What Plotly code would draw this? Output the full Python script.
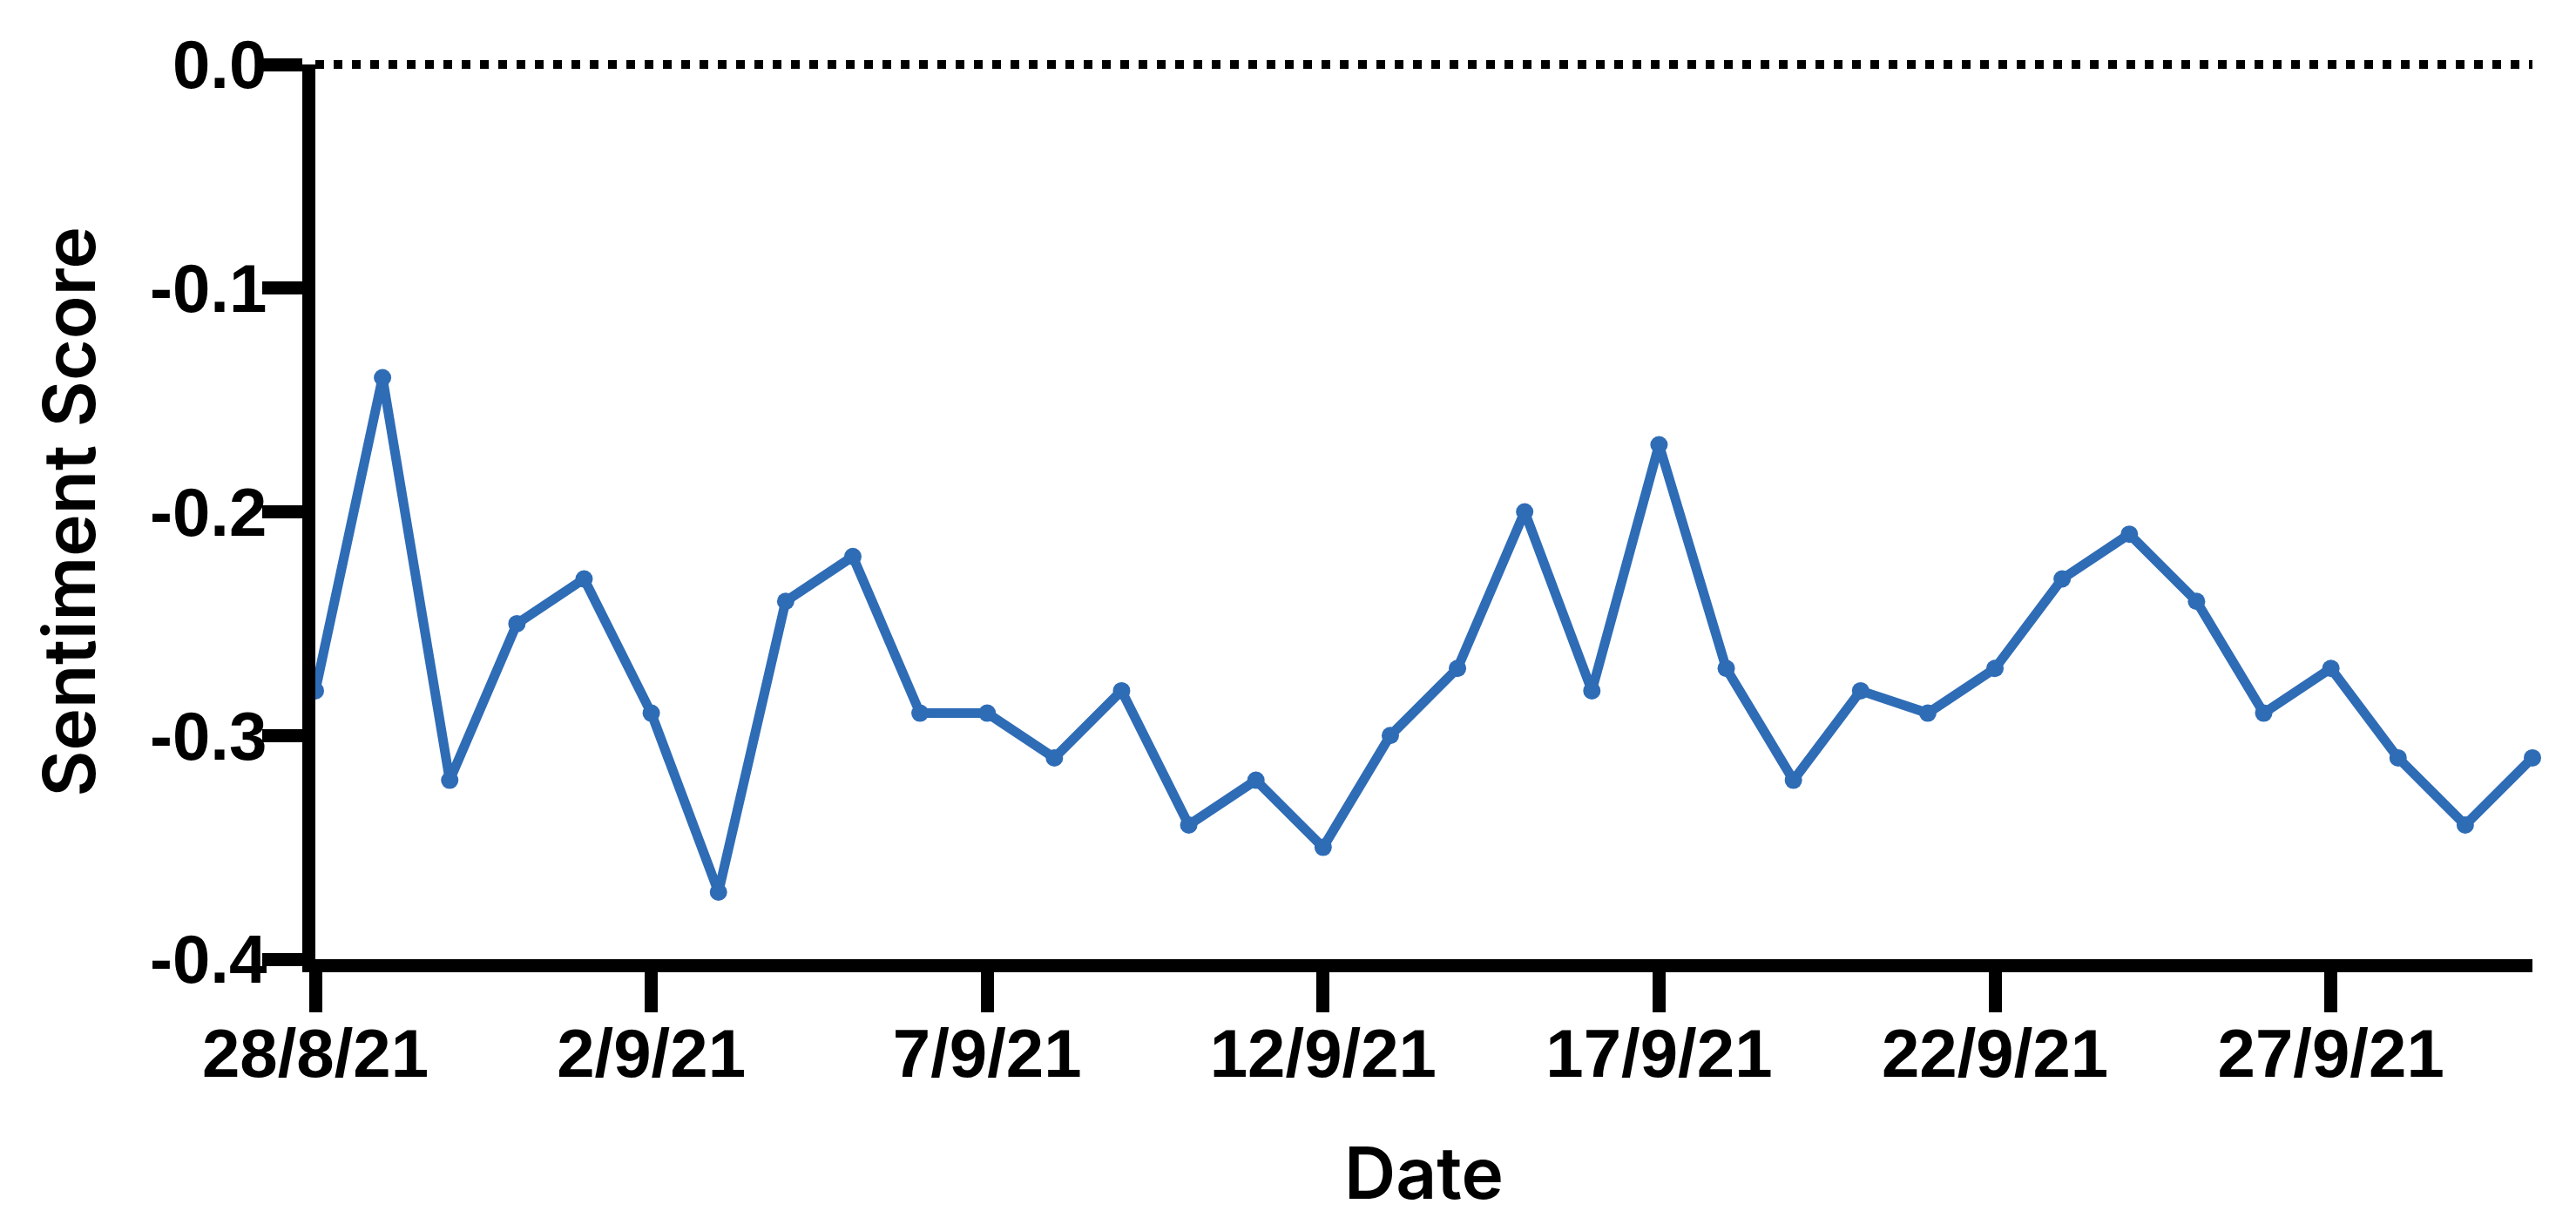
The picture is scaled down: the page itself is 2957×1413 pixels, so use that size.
import plotly.graph_objects as go

# daily sentiment, 28 Aug 2021 - 30 Sep 2021
dates = [
    "2021-08-28", "2021-08-29", "2021-08-30", "2021-08-31", "2021-09-01",
    "2021-09-02", "2021-09-03", "2021-09-04", "2021-09-05", "2021-09-06",
    "2021-09-07", "2021-09-08", "2021-09-09", "2021-09-10", "2021-09-11",
    "2021-09-12", "2021-09-13", "2021-09-14", "2021-09-15", "2021-09-16",
    "2021-09-17", "2021-09-18", "2021-09-19", "2021-09-20", "2021-09-21",
    "2021-09-22", "2021-09-23", "2021-09-24", "2021-09-25", "2021-09-26",
    "2021-09-27", "2021-09-28", "2021-09-29", "2021-09-30",
]
scores = [
    -0.28, -0.14, -0.32, -0.25, -0.23,
    -0.29, -0.37, -0.24, -0.22, -0.29,
    -0.29, -0.31, -0.28, -0.34, -0.32,
    -0.35, -0.30, -0.27, -0.20, -0.28,
    -0.17, -0.27, -0.32, -0.28, -0.29,
    -0.27, -0.23, -0.21, -0.24, -0.29,
    -0.27, -0.31, -0.34, -0.31,
]

x_tickvals = ["2021-08-28", "2021-09-02", "2021-09-07", "2021-09-12",
              "2021-09-17", "2021-09-22", "2021-09-27"]
x_ticktext = ["28/8/21", "2/9/21", "7/9/21", "12/9/21",
              "17/9/21", "22/9/21", "27/9/21"]
y_tickvals = [0.0, -0.1, -0.2, -0.3, -0.4]
y_ticktext = ["0.0", "-0.1", "-0.2", "-0.3", "-0.4"]

BLUE = "#2f6cb6"
FONT = "Liberation Sans, Arial, sans-serif"
TITLE_FONT = "Inter, Liberation Sans, Arial, sans-serif"

fig = go.Figure()

fig.add_trace(go.Scatter(
    x=dates, y=scores,
    mode="lines+markers",
    line=dict(color=BLUE, width=11),
    marker=dict(color=BLUE, size=20),
    cliponaxis=False,
    showlegend=False,
))

# dotted zero line; y=0 is the top of the axis, so tie it to the axis
# domain top to avoid it being half clipped
fig.add_shape(
    type="line", xref="x", yref="y domain",
    x0=dates[0], x1=dates[-1], y0=1, y1=1,
    line=dict(color="black", width=10, dash="10px,11px"),
)

axis_common = dict(
    showline=True, linecolor="black", linewidth=15,
    ticks="outside", tickwidth=15, tickcolor="black", ticklen=46,
    showgrid=False, zeroline=False, automargin=False,
    tickfont=dict(family=FONT, size=78, color="black", weight="bold"),
)

fig.update_xaxes(
    **axis_common,
    range=["2021-08-28", "2021-09-30"],
    tickvals=x_tickvals, ticktext=x_ticktext,
    ticklabelstandoff=-20,
    title=dict(text="Date", standoff=74,
               font=dict(family=TITLE_FONT, size=82, color="black", weight=600)),
)
fig.update_yaxes(
    **axis_common,
    range=[-0.4, 0.0],
    tickvals=y_tickvals, ticktext=y_ticktext,
    ticklabelstandoff=-21,
    title=dict(text="Sentiment Score", standoff=42,
               font=dict(family=TITLE_FONT, size=82, color="black", weight=600)),
)

fig.update_layout(
    width=2957, height=1413,
    margin=dict(l=354, r=58, t=66, b=320),
    plot_bgcolor="white", paper_bgcolor="white",
)

fig.write_html("out.html")
